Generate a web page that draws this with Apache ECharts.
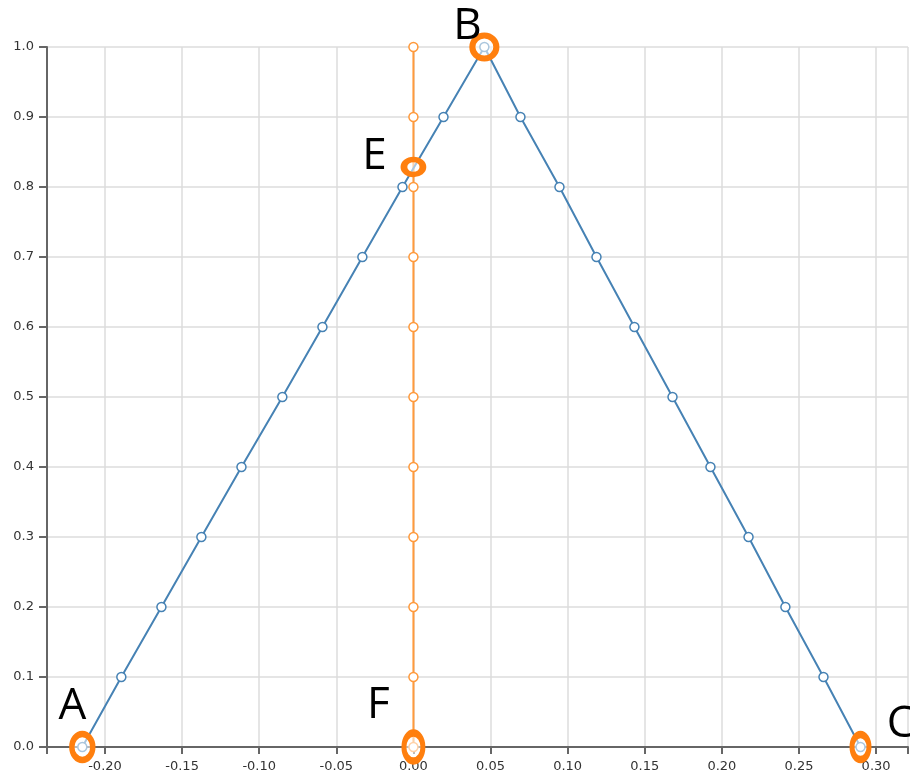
<!DOCTYPE html>
<html>
<head>
<meta charset="utf-8">
<script src="https://cdn.jsdelivr.net/npm/echarts@6/dist/echarts.min.js"></script>
<style>
html,body{margin:0;padding:0;background:#fff;}
#c{width:910px;height:779px;}
</style>
</head>
<body>
<div id="c"></div>
<script>
// Data
const triX = [-0.2147,-0.1894,-0.1634,-0.1375,-0.1115,-0.0850,-0.0590,-0.0331,-0.0071,0.0195,0.0460,0.0694,0.0947,0.1187,0.1433,0.1680,0.1926,0.2173,0.2412,0.2659,0.2899];
const triY = [0.0,0.1,0.2,0.3,0.4,0.5,0.6,0.7,0.8,0.9,1.0,0.9,0.8,0.7,0.6,0.5,0.4,0.3,0.2,0.1,0.0];
const vertX = [0,0,0,0,0,0,0,0,0,0,0];
const vertY = [0.0,0.1,0.2,0.3,0.4,0.5,0.6,0.7,0.8,0.9,1.0];
const markNames = ['A','B','C','E','F'];
const markX = [-0.2147,0.0460,0.2899,0.0,0.0];
const markY = [0.0,1.0,0.0,0.8286,0.0];
const xTickLabels = [-0.20,-0.15,-0.10,-0.05,0.00,0.05,0.10,0.15,0.20,0.25,0.30];
const yTickLabels = [0.0,0.1,0.2,0.3,0.4,0.5,0.6,0.7,0.8,0.9,1.0];
const xMin = -0.2376, xMax = 0.3207;

// styling (kept separate from data)
const markSizes = {A:[21,26],B:[24,23],C:[17,25],E:[19,15],F:[19,28]};
const labelOffsets = {A:[-10,-41],B:[-17,-21],C:[40,-23],E:[-39,-11],F:[-35,-42]};

const BLUE = '#4682b4', ORANGE = '#ff7f0e';
const chart = echarts.init(document.getElementById('c'), null, {renderer:'canvas'});

const axisLabelStyle = {color:'#333', fontSize:13, fontFamily:'"DejaVu Sans", Verdana, sans-serif'};

chart.setOption({
  animation:false,
  grid:{left:47, right:2, top:47, bottom:32, containLabel:false},
  xAxis:{
    type:'value', min:xMin, max:xMax,
    axisLine:{show:true, onZero:false, lineStyle:{color:'#666', width:2}},
    axisTick:{show:true, length:7, lineStyle:{color:'#666', width:2}, customValues:[xMin].concat(xTickLabels, [xMax])},
    axisLabel:{...axisLabelStyle, margin:13, customValues:xTickLabels, formatter:v=>v.toFixed(2), showMinLabel:true, showMaxLabel:true},
    splitLine:{show:true, lineStyle:{color:'#ddd', width:1.5}, customValues:xTickLabels}
  },
  yAxis:{
    type:'value', min:0, max:1, interval:0.1,
    axisLine:{show:true, onZero:false, lineStyle:{color:'#666', width:2}},
    axisTick:{show:true, length:8, lineStyle:{color:'#666', width:2}},
    axisLabel:{...axisLabelStyle, margin:13, formatter:v=>v.toFixed(1)},
    splitLine:{show:true, lineStyle:{color:'#ddd', width:1.5}}
  },
  series:[
    {
      type:'line', data:vertX.map((x,i)=>[x,vertY[i]]),
      symbol:'circle', symbolSize:9, showAllSymbol:true,
      lineStyle:{color:'#ff9a3c', width:2},
      itemStyle:{color:'#fff', borderColor:'#ff9a3c', borderWidth:1.5, opacity:1},
      z:3
    },
    {
      type:'line', data:triX.map((x,i)=>[x,triY[i]]),
      symbol:'circle', symbolSize:9, showAllSymbol:true,
      lineStyle:{color:BLUE, width:2},
      itemStyle:{color:'#fff', borderColor:BLUE, borderWidth:1.5, opacity:1},
      z:4
    },
    {
      type:'scatter',
      data:markNames.map((n,i)=>({
        value:[markX[i],markY[i]], name:n,
        symbolSize:markSizes[n],
        label:{show:true, formatter:n, position:'inside', offset:labelOffsets[n]}
      })),
      symbol:'circle',
      itemStyle:{color:'rgba(255,255,255,0.55)', borderColor:ORANGE, borderWidth:6, opacity:1},
      label:{color:'#000', fontSize:44, fontFamily:'"Open Sans", sans-serif'},
      emphasis:{disabled:true},
      z:5
    }
  ]
});
</script>
</body>
</html>
